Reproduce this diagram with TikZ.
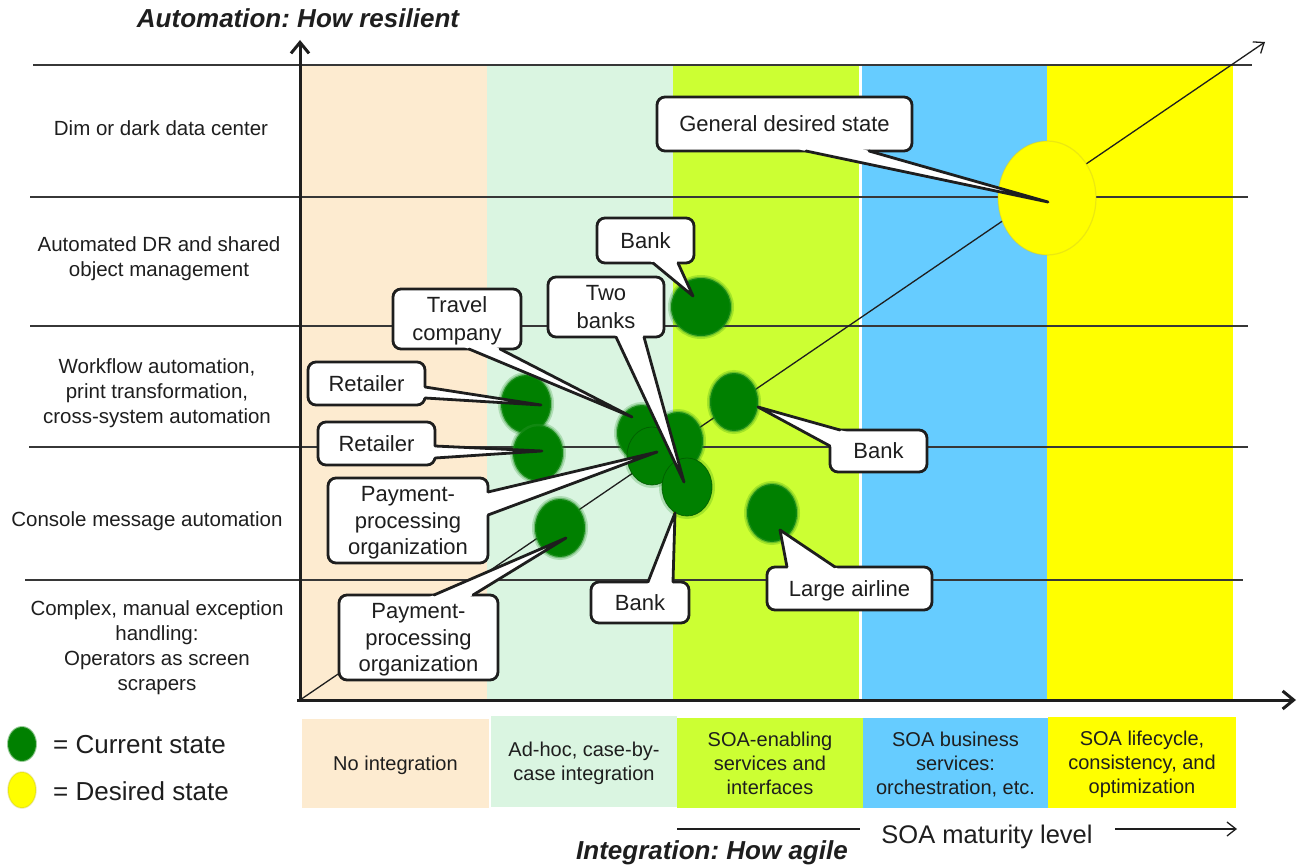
\documentclass[tikz,border=0pt]{standalone}
\usepackage{fontspec}
\setmainfont{Liberation Sans}
\usetikzlibrary{arrows.meta,shapes.geometric,calc}
\definecolor{cPeach}{RGB}{253,235,208}
\definecolor{cMint}{RGB}{218,245,225}
\definecolor{cLime}{RGB}{204,255,51}
\definecolor{cSky}{RGB}{102,204,255}
\definecolor{cYel}{RGB}{255,255,0}
\definecolor{cBlob}{RGB}{0,128,0}
\definecolor{cInk}{RGB}{30,30,30}
\definecolor{cGrid}{RGB}{55,55,55}
\newcommand\wdg[4]{% base1, tip, base2, inner
  \fill[white] ($(#1)!-7pt!(#2)$) -- (#2) -- ($(#3)!-7pt!(#2)$) -- (#4) -- cycle;
  \draw[wedgeline] (#1) -- (#2) -- (#3);}
\frenchspacing
\begin{document}
\begin{tikzpicture}[x=1pt,y=-1pt,
  rowlab/.style={align=center,font=\fontsize{20.5}{25}\selectfont,text=cInk,inner sep=0pt,text depth=0pt},
  catbox/.style={align=center,font=\fontsize{20}{24}\selectfont,text=cInk,inner sep=0pt,text depth=0pt},
  callout/.style={draw=cInk,fill=white,line width=2.8pt,rounded corners=8pt,align=center,
    font=\fontsize{22}{26.5}\selectfont,text=cInk,inner sep=0pt,text depth=0pt},
  wedgeline/.style={draw=cInk,line width=2.8pt,line join=round,line cap=round},
  blob/.style={ellipse,fill=cBlob,draw=cBlob!85!white,draw opacity=0.45,line width=2.5pt,inner sep=0pt,
    minimum width=50,minimum height=58,preaction={draw=cBlob,draw opacity=0.2,line width=6pt}},
  ringblob/.style={blob,draw=cBlob!70!black,draw opacity=0.8,line width=0.8pt},
  gridline/.style={draw=cGrid,line width=1.2pt},
  axisline/.style={draw=cInk,line width=3pt,-{Straight Barb[length=11pt,width=18pt,line width=3pt]}},
  thinarrow/.style={draw=cInk,line width=1.3pt,-{Straight Barb[length=9pt,width=14pt,line width=1.3pt]}},
  titletext/.style={font=\fontsize{26}{30}\selectfont\bfseries\itshape,text=cInk,inner sep=0pt},
  legtext/.style={font=\fontsize{26}{30}\selectfont,text=cInk,inner sep=0pt,anchor=west},
]
\useasboundingbox (0,0) rectangle (1299,867);

% columns
\fill[cPeach] (300,64) rectangle (487,700);
\fill[cMint] (487,64) rectangle (673,700);
\fill[cLime] (673,64) rectangle (859,700);
\fill[cSky] (862,64) rectangle (1047,700);
\fill[cYel] (1047,64) rectangle (1233,700);

% grid lines
\draw[gridline] (33,65) -- (1252,65);
\draw[gridline] (30,197) -- (1248,197);
\draw[gridline] (30,326) -- (1248,326);
\draw[gridline] (29,447) -- (1248,447);
\draw[gridline] (25,580) -- (1243,580);

% diagonal
\coordinate (O) at (300,700);
\coordinate (diagtip) at (1265,42);
\draw[thinarrow] (O) -- (diagtip);

% axes
\coordinate (ybot) at (300,702);
\coordinate (ytop) at (300,40);
\coordinate (xleft) at (297,700);
\coordinate (xright) at (1296,700);
\draw[axisline] (ybot) -- (ytop);
\draw[axisline] (xleft) -- (xright);

% titles
\node[titletext] (ytitle) at (298,18) {Automation: How resilient};
\node[titletext] (xtitle) at (712,853) {Integration: How agile};

% row labels
\node[rowlab] (r1) at (161,128) {Dim or dark data center};
\node[rowlab] (r2) at (159,257) {Automated DR and shared\\object management};
\node[rowlab] (r3) at (157,391) {Workflow automation,\\print transformation,\\cross-system automation};
\node[rowlab] (r4) at (147,519) {Console message automation};
\node[rowlab] (r5) at (157,646) {Complex, manual exception\\handling:\\Operators as screen\\scrapers};

% category boxes
\node[catbox,fill=cPeach,minimum width=187,minimum height=89] (c1) at (395.5,763.5) {No integration};
\node[catbox,fill=cMint,minimum width=186,minimum height=91] (c2) at (584,761.5) {Ad-hoc, case-by-\\case integration};
\node[catbox,fill=cLime,minimum width=186,minimum height=90] (c3) at (770,763) {SOA-enabling\\services and\\interfaces};
\node[catbox,fill=cSky,minimum width=185,minimum height=90] (c4) at (955.5,763) {SOA business\\services:\\orchestration, etc.};
\node[catbox,fill=cYel,minimum width=188,minimum height=91] (c5) at (1142,762.5) {SOA lifecycle,\\consistency, and\\optimization};

% SOA maturity level
\node[font=\fontsize{25.5}{30}\selectfont,text=cInk,inner sep=0pt] (soa) at (987,837) {SOA maturity level};
\coordinate (soaL) at (677,829);
\coordinate (soaLe) at (860,829);
\coordinate (soaR) at (1115,829);
\coordinate (soaRe) at (1237,829);
\draw[draw=cInk,line width=1.3pt] (soaL) -- (soaLe);
\draw[thinarrow] (soaR) -- (soaRe);

% legend
\node[ellipse,fill=cBlob,draw=cBlob!85!white,draw opacity=0.45,line width=2pt,inner sep=0pt,minimum width=28,minimum height=34] (lg1) at (22,744) {};
\node[ellipse,fill=cYel,draw=yellow!75!black,draw opacity=0.35,line width=1.5pt,inner sep=0pt,minimum width=28,minimum height=36] (lg2) at (22,790) {};
\node[legtext] (lt1) at (53,745) {= Current state};
\node[legtext] (lt2) at (53,791) {= Desired state};

% desired state circle
\node[ellipse,fill=cYel,draw=yellow!75!black,draw opacity=0.35,line width=1.2pt,inner sep=0pt,
  minimum width=98,minimum height=114] (desired) at (1047,198) {};

% current state blobs
\node[blob,minimum width=60,minimum height=58] (bB1) at (701,307) {};
\node[blob] (bR1) at (526,404) {};
\node[blob,minimum height=56] (bR2) at (538,453) {};
\node[blob] (bP2) at (560,528) {};
\node[blob,minimum height=56] (bT) at (642,433) {};
\node[blob] (bC6) at (678,441) {};
\node[ringblob] (bP1) at (652,456) {};
\node[ringblob] (bC8) at (687,487) {};
\node[blob,minimum width=48] (bBR) at (734,402) {};
\node[blob] (bAir) at (772,513) {};

% callouts
\node[callout,minimum width=255,minimum height=54] (gds) at (784.5,124) {General desired state};
\coordinate (gds1) at (806,151); \coordinate (gds2) at (869,151);
\coordinate (gdsT) at (1048,202); \coordinate (gdsI) at (838,143);
\wdg{gds1}{gdsT}{gds2}{gdsI}

\node[callout,minimum width=97,minimum height=45] (bankT) at (645.5,240.5) {Bank};
\coordinate (bkT1) at (653,263); \coordinate (bkT2) at (678,263);
\coordinate (bkTT) at (693,296); \coordinate (bkTI) at (665,255);
\wdg{bkT1}{bkTT}{bkT2}{bkTI}

\node[callout,minimum width=128,minimum height=60,font=\fontsize{22}{28}\selectfont] (travel) at (457,319) {Travel\\company};
\coordinate (tr1) at (469,349); \coordinate (tr2) at (500,349);
\coordinate (trT) at (632,417); \coordinate (trI) at (485,341);
\wdg{tr1}{trT}{tr2}{trI}

\node[callout,minimum width=116,minimum height=60,font=\fontsize{22}{27.5}\selectfont] (twob) at (606,307) {Two\\banks};
\coordinate (tw1) at (616,337); \coordinate (tw2) at (644,337);
\coordinate (twT) at (684,482); \coordinate (twI) at (630,329);
\wdg{tw1}{twT}{tw2}{twI}

\node[callout,minimum width=117,minimum height=43] (ret1) at (366.5,383.5) {Retailer};
\coordinate (ra1) at (425,387); \coordinate (ra2) at (425,398);
\coordinate (raT) at (541,405); \coordinate (raI) at (417,392);
\wdg{ra1}{raT}{ra2}{raI}

\node[callout,minimum width=117,minimum height=43] (ret2) at (376.5,443.5) {Retailer};
\coordinate (rb1) at (435,446); \coordinate (rb2) at (435,458);
\coordinate (rbT) at (542,451); \coordinate (rbI) at (427,452);
\wdg{rb1}{rbT}{rb2}{rbI}

\node[callout,minimum width=160,minimum height=85] (pay1) at (408,520.5) {Payment-\\processing\\organization};
\coordinate (pa1) at (488,492); \coordinate (pa2) at (488,515);
\coordinate (paT) at (657,452); \coordinate (paI) at (480,503);
\wdg{pa1}{paT}{pa2}{paI}

\node[callout,minimum width=159,minimum height=85] (pay2) at (418.5,637.5) {Payment-\\processing\\organization};
\coordinate (pb1) at (434,595); \coordinate (pb2) at (473,595);
\coordinate (pbT) at (566,538); \coordinate (pbI) at (453,603);
\wdg{pb1}{pbT}{pb2}{pbI}

\node[callout,minimum width=98,minimum height=41] (bankB) at (640,602.5) {Bank};
\coordinate (bb1) at (648,582); \coordinate (bb2) at (673,582);
\coordinate (bbT) at (675,513); \coordinate (bbI) at (660,590);
\wdg{bb1}{bbT}{bb2}{bbI}

\node[callout,minimum width=97,minimum height=42] (bankR) at (878.5,451) {Bank};
\coordinate (br1) at (840,430); \coordinate (br2) at (830,446);
\coordinate (brT) at (758,407); \coordinate (brI) at (839,440);
\wdg{br1}{brT}{br2}{brI}

\node[callout,minimum width=165,minimum height=43] (airline) at (849.5,588.5) {Large airline};
\coordinate (al1) at (787,567); \coordinate (al2) at (835,567);
\coordinate (alT) at (780,530); \coordinate (alI) at (811,575);
\wdg{al1}{alT}{al2}{alI}

\end{tikzpicture}
\end{document}
